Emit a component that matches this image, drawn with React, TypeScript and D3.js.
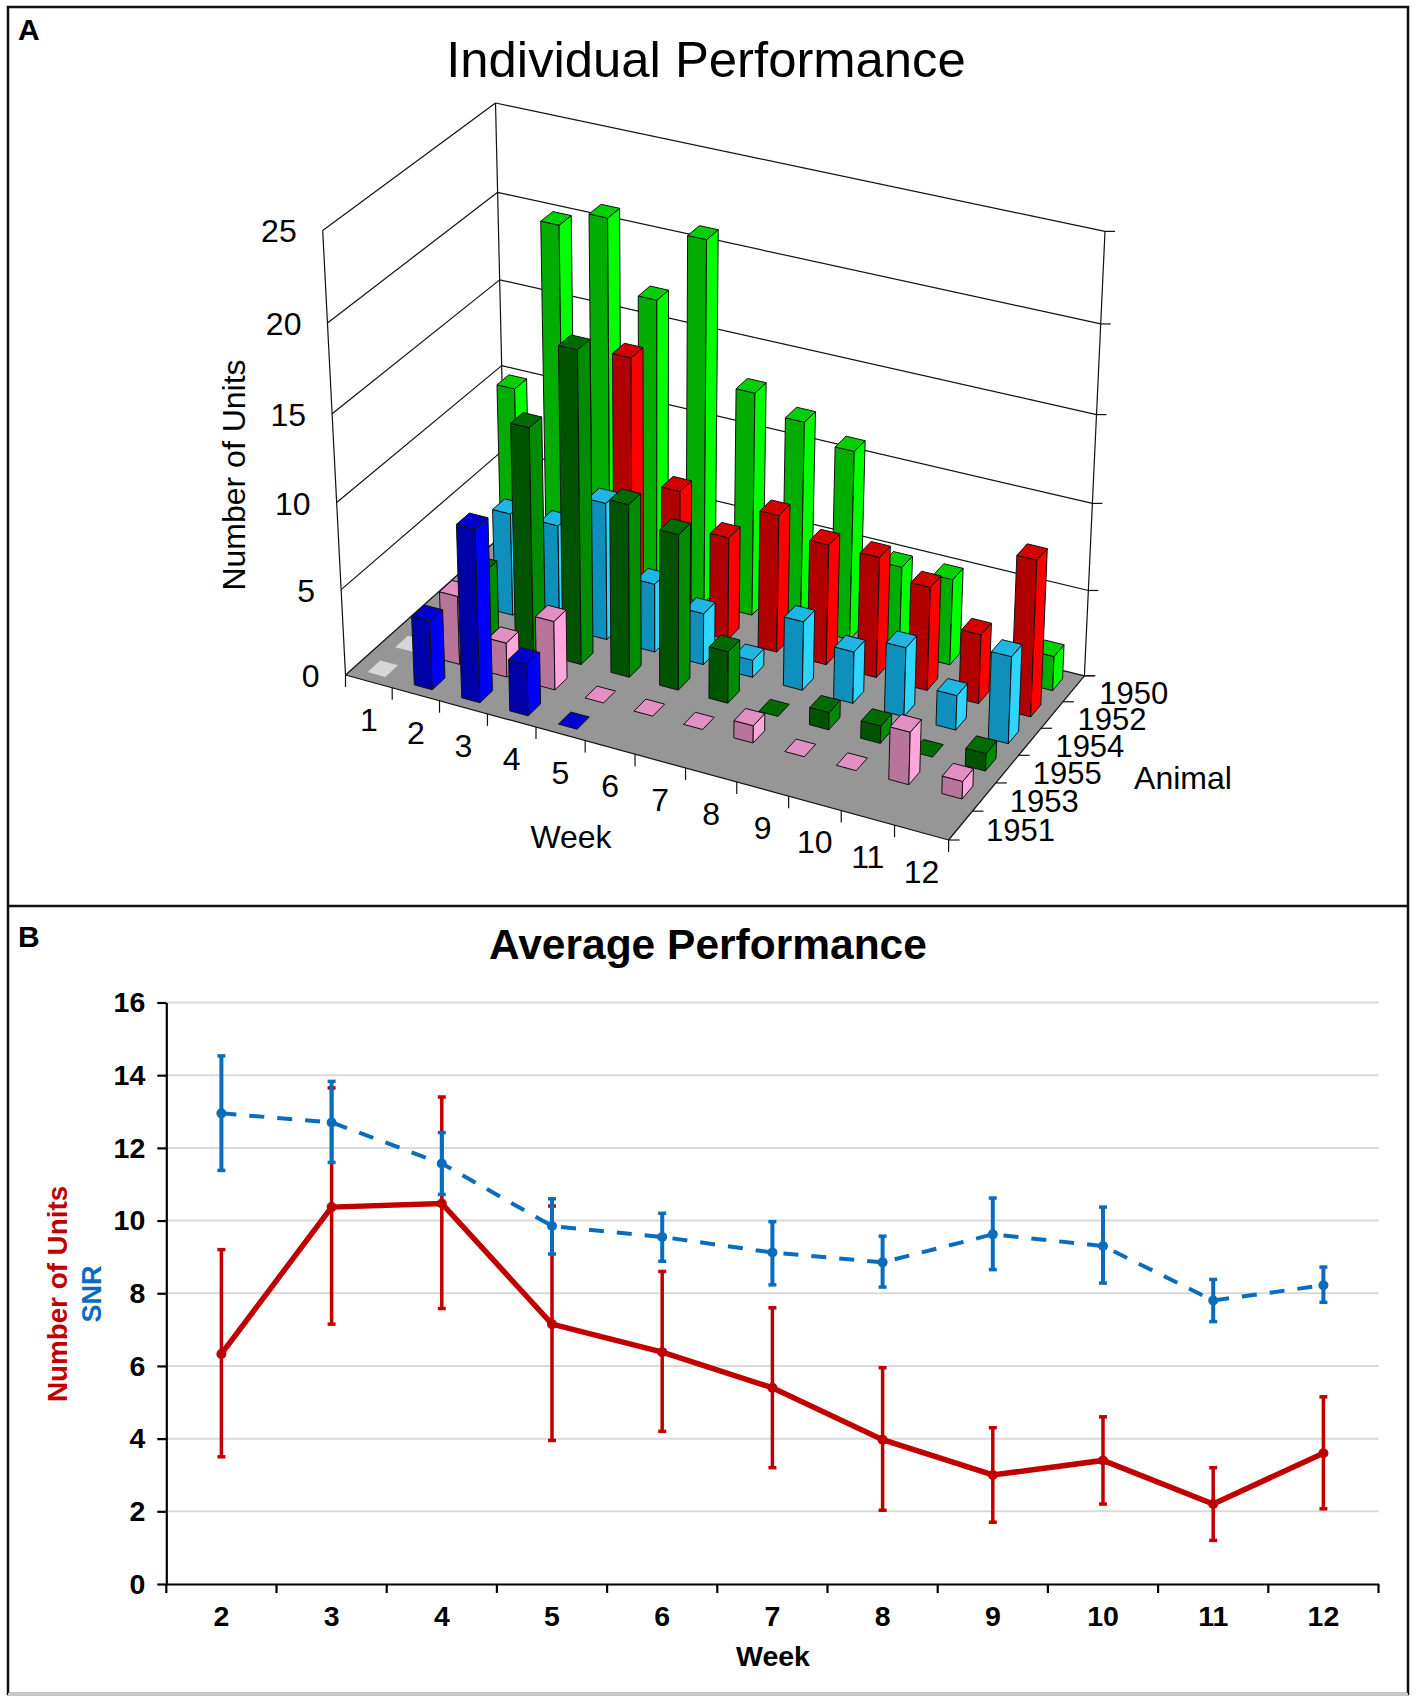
import * as d3 from "d3";
import { useEffect, useRef } from "react";

// panel A data, front row first, null = no bar drawn
const animals = ["1951", "1953", "1955", "1954", "1952", "1950"];
const weeksA = ["1", "2", "3", "4", "5", "6", "7", "8", "9", "10", "11", "12"];
const units1951 = [0, 4, 10, 3, 0, null, null, null, null, null, null, null];
const units1953 = [0, 4, 2, 4, 0, 0, 0, 1, 0, 0, 3, 1];
const units1955 = [null, 4, 13, 18, 10, 9, 3, 0, 1, 1, 0, 1];
const units1954 = [null, 6, 6, 8, 4, 3, 1, 4, 3, 4, 2, 5];
const units1952 = [null, null, null, 15, 8, 6, 8, 7, 7, 6, 4, 9];
const units1950 = [10, 20, 21, 17, 21, 13, 12, 11, 5, 5, null, 2];
const unitsByAnimal = [units1951, units1953, units1955, units1954, units1952, units1950];
const ticksA = [0, 5, 10, 15, 20, 25];
// week 1 zeros of the two front animals are washed out
const faded = ["1951", "1953"];

// front, right, top
const barColors = [
    ["#0000a8", "#0000ff", "#0000d0"],
    ["#b8749a", "#ffa6dc", "#e48fc4"],
    ["#005400", "#008c00", "#006c00"],
    ["#0f8fbb", "#2fd4ff", "#1fb6e4"],
    ["#b00000", "#ff0000", "#d40000"],
    ["#00ad00", "#00ff00", "#00cf00"],
];

// panel B data
const weeksB = ["2", "3", "4", "5", "6", "7", "8", "9", "10", "11", "12"];
const unitsMean = [6.33, 10.37, 10.47, 7.15, 6.38, 5.4, 3.97, 3.0, 3.4, 2.2, 3.6];
const unitsHigh = [9.2, 13.65, 13.4, 10.4, 8.6, 7.6, 5.95, 4.3, 4.6, 3.2, 5.15];
const unitsLow = [3.5, 7.15, 7.58, 3.95, 4.2, 3.2, 2.03, 1.7, 2.2, 1.2, 2.07];
const snrMean = [12.95, 12.7, 11.57, 9.85, 9.55, 9.12, 8.85, 9.62, 9.3, 7.8, 8.22];
const snrHigh = [14.53, 13.83, 12.42, 10.6, 10.2, 9.97, 9.57, 10.62, 10.37, 8.38, 8.72];
const snrLow = [11.38, 11.6, 10.72, 9.08, 8.88, 8.23, 8.17, 8.65, 8.28, 7.22, 7.75];
const ticksB = [0, 2, 4, 6, 8, 10, 12, 14, 16];

const FONT = "'Liberation Sans', Arial, sans-serif";
const RED = "#c00000";
const BLUE = "#0a6cbc";

type Pt = [number, number];

// maps the unit square onto a quad (p0 = 0,0  p1 = 1,0  p2 = 1,1  p3 = 0,1)
const quadMap = (q: Pt[]) => {
    const [[x0, y0], [x1, y1], [x2, y2], [x3, y3]] = q;
    const dx1 = x1 - x2, dx2 = x3 - x2, sx = x0 - x1 + x2 - x3;
    const dy1 = y1 - y2, dy2 = y3 - y2, sy = y0 - y1 + y2 - y3;
    const den = dx1 * dy2 - dx2 * dy1;
    const g = (sx * dy2 - dx2 * sy) / den;
    const h = (dx1 * sy - sx * dy1) / den;
    return (u: number, v: number): Pt => {
        const w = g * u + h * v + 1;
        return [
            ((x1 - x0 + g * x1) * u + (x3 - x0 + h * x3) * v + x0) / w,
            ((y1 - y0 + g * y1) * u + (y3 - y0 + h * y3) * v + y0) / w,
        ];
    };
};

// the 3d box of panel A: floor and ceiling as seen on screen
const floorMap = quadMap([[345.5, 675], [948.6, 840], [1084.4, 675.8], [505.6, 532]]);
const topMap = quadMap([[322.7, 230.4], [962, 375], [1105, 231.4], [495.5, 103]]);
const project = (u: number, v: number, t: number): Pt => {
    const a = floorMap(u, v);
    const b = topMap(u, v);
    const k = t / (1.052 - 0.052 * t);
    return [a[0] + (b[0] - a[0]) * k, a[1] + (b[1] - a[1]) * k];
};

const drawPanelA = (svg: any) => {
    const g = svg.append("g").attr("font-family", FONT);
    const weekScale = d3.scaleBand().domain(weeksA).range([0, 1]);
    const animalScale = d3.scaleBand().domain(animals).range([0, 1]);
    const valueScale = d3.scaleLinear().domain([0, 25]).range([0, 1]);
    const poly = d3.line().curve(d3.curveLinearClosed);

    const segment = (a: Pt, b: Pt, width = 1.2) =>
        g.append("line")
            .attr("x1", a[0]).attr("y1", a[1])
            .attr("x2", b[0]).attr("y2", b[1])
            .attr("stroke", "#111").attr("stroke-width", width);

    // floor
    g.append("path")
        .attr("d", poly([project(0, 0, 0), project(1, 0, 0), project(1, 1, 0), project(0, 1, 0)]))
        .attr("fill", "#969696");

    // walls
    ticksA.forEach((tick) => {
        const t = valueScale(tick);
        segment(project(0, 0, t), project(0, 1, t));
        segment(project(0, 1, t), project(1, 1, t));
        const end = project(1, 1, t);
        segment(end, [end[0] + 10, end[1]]);
        const left = project(0, 0, t);
        g.append("text")
            .attr("x", left[0] - 26)
            .attr("y", left[1] + 12)
            .attr("text-anchor", "end")
            .attr("font-size", 32)
            .text(tick);
    });
    segment(project(0, 0, 0), project(0, 0, 1));
    segment(project(0, 1, 0), project(0, 1, 1));
    segment(project(1, 1, 0), project(1, 1, 1));
    segment(project(0, 0, 0), project(1, 0, 0));
    segment(project(1, 0, 0), project(1, 1, 0));

    // week ticks and labels along the front edge
    weeksA.forEach((week, i) => {
        const u0 = weekScale(week)!;
        const a = project(u0, 0, 0);
        segment(a, [a[0], a[1] + 12]);
        if (i === weeksA.length - 1) {
            const e = project(1, 0, 0);
            segment(e, [e[0], e[1] + 12]);
        }
        const c = project(u0 + weekScale.bandwidth() / 2, 0, 0);
        g.append("text")
            .attr("x", c[0])
            .attr("y", c[1] + 50)
            .attr("text-anchor", "middle")
            .attr("font-size", 32)
            .text(week);
    });

    // animal ticks and labels along the right edge
    animals.forEach((animal, i) => {
        const v0 = animalScale(animal)!;
        const a = project(1, v0, 0);
        segment(a, [a[0] + 11, a[1]]);
        if (i === animals.length - 1) {
            const e = project(1, 1, 0);
            segment(e, [e[0] + 11, e[1]]);
        }
        const c = project(1, v0 + animalScale.bandwidth() / 2, 0);
        g.append("text")
            .attr("x", c[0] + 60)
            .attr("y", c[1] + 15)
            .attr("text-anchor", "middle")
            .attr("font-size", 31)
            .text(animal);
    });

    // bars, back row first
    const du = weekScale.bandwidth() * 0.38;
    const dv = animalScale.bandwidth() * 0.46;
    [...animals].reverse().forEach((animal) => {
        const row = animals.indexOf(animal);
        const [front, right, top] = barColors[row];
        unitsByAnimal[row].forEach((value, i) => {
            if (value === null) return;
            const uc = weekScale(weeksA[i])! + weekScale.bandwidth() / 2;
            const vc = animalScale(animal)! + animalScale.bandwidth() / 2;
            const u0 = uc - du / 2, u1 = uc + du / 2;
            const v0 = vc - dv / 2, v1 = vc + dv / 2;
            const t = valueScale(value);
            const isFaded = i === 0 && faded.includes(animal);
            if (t > 0) {
                g.append("path")
                    .attr("d", poly([project(u0, v0, 0), project(u1, v0, 0), project(u1, v0, t), project(u0, v0, t)]))
                    .attr("fill", front).attr("stroke", "#111").attr("stroke-width", 1);
                g.append("path")
                    .attr("d", poly([project(u1, v0, 0), project(u1, v1, 0), project(u1, v1, t), project(u1, v0, t)]))
                    .attr("fill", right).attr("stroke", "#111").attr("stroke-width", 1);
            }
            g.append("path")
                .attr("d", poly([project(u0, v0, t), project(u1, v0, t), project(u1, v1, t), project(u0, v1, t)]))
                .attr("fill", isFaded ? "#d6d6d6" : top)
                .attr("stroke", isFaded ? "none" : "#111")
                .attr("stroke-width", 1);
        });
    });

    // titles
    g.append("text")
        .attr("x", 706).attr("y", 77)
        .attr("text-anchor", "middle")
        .attr("font-size", 50.8)
        .text("Individual Performance");
    g.append("text")
        .attr("transform", "translate(245,475) rotate(-90)")
        .attr("text-anchor", "middle")
        .attr("font-size", 32)
        .text("Number of Units");
    g.append("text").attr("x", 571).attr("y", 848).attr("text-anchor", "middle").attr("font-size", 32).text("Week");
    g.append("text").attr("x", 1183).attr("y", 789).attr("text-anchor", "middle").attr("font-size", 32).text("Animal");
};

const drawPanelB = (svg: any) => {
    const left = 166.3, right = 1378.5, top = 1002.5, bottom = 1584;
    const g = svg.append("g").attr("font-family", FONT);
    const scaleX = d3.scaleBand().domain(weeksB).range([left, right]);
    const scaleY = d3.scaleLinear().domain([0, 16]).range([bottom, top]);
    const centre = (week: string) => scaleX(week)! + scaleX.bandwidth() / 2;

    // grid
    ticksB.filter((d) => d > 0).forEach((tick) => {
        g.append("line")
            .attr("x1", left).attr("x2", right)
            .attr("y1", scaleY(tick)).attr("y2", scaleY(tick))
            .attr("stroke", "#d9d9d9").attr("stroke-width", 2);
    });

    // y axis
    const yAxis = g.append("g")
        .attr("transform", `translate(${left},0)`)
        .call(d3.axisLeft(scaleY).tickValues(ticksB).tickSize(9).tickPadding(12).tickSizeOuter(0));
    yAxis.selectAll("path,line").attr("stroke", "#000").attr("stroke-width", 2.2);
    yAxis.selectAll("text")
        .attr("font-family", FONT).attr("font-size", 28.5).attr("font-weight", "bold").attr("fill", "#000");

    // x axis: ticks sit between the weeks, labels under the middle
    const xAxis = g.append("g")
        .attr("transform", `translate(0,${bottom})`)
        .call(d3.axisBottom(scaleX).tickSize(0).tickPadding(22));
    xAxis.select("path").attr("stroke", "#000").attr("stroke-width", 2.2);
    xAxis.selectAll("text")
        .attr("font-family", FONT).attr("font-size", 28.5).attr("font-weight", "bold").attr("fill", "#000");
    [...weeksB.map((w) => scaleX(w)!), right].forEach((x) => {
        g.append("line")
            .attr("x1", x).attr("x2", x)
            .attr("y1", bottom).attr("y2", bottom + 9)
            .attr("stroke", "#000").attr("stroke-width", 2.2);
    });

    const drawSeries = (mean: number[], high: number[], low: number[], color: string, lineWidth: number, dash: string | null, barWidth: number, r: number) => {
        weeksB.forEach((week, i) => {
            const x = centre(week);
            g.append("line")
                .attr("x1", x).attr("x2", x)
                .attr("y1", scaleY(high[i])).attr("y2", scaleY(low[i]))
                .attr("stroke", color).attr("stroke-width", barWidth);
            [high[i], low[i]].forEach((v) => {
                g.append("line")
                    .attr("x1", x - 4).attr("x2", x + 4)
                    .attr("y1", scaleY(v)).attr("y2", scaleY(v))
                    .attr("stroke", color).attr("stroke-width", 3.5);
            });
        });
        const line = d3.line<number>()
            .x((_, i) => centre(weeksB[i]))
            .y((d) => scaleY(d));
        g.append("path")
            .attr("d", line(mean))
            .attr("fill", "none")
            .attr("stroke", color)
            .attr("stroke-width", lineWidth)
            .attr("stroke-dasharray", dash);
        weeksB.forEach((week, i) => {
            g.append("circle")
                .attr("cx", centre(week)).attr("cy", scaleY(mean[i]))
                .attr("r", r).attr("fill", color);
        });
    };
    drawSeries(unitsMean, unitsHigh, unitsLow, RED, 5.5, null, 3.5, 5);
    drawSeries(snrMean, snrHigh, snrLow, BLUE, 4, "15 13", 4, 5);

    g.append("text")
        .attr("x", 708).attr("y", 959)
        .attr("text-anchor", "middle")
        .attr("font-size", 42.5).attr("font-weight", "bold")
        .text("Average Performance");
    g.append("text")
        .attr("x", 773).attr("y", 1666)
        .attr("text-anchor", "middle")
        .attr("font-size", 28.5).attr("font-weight", "bold")
        .text("Week");
    g.append("text")
        .attr("transform", "translate(67,1294) rotate(-90)")
        .attr("text-anchor", "middle")
        .attr("font-size", 27.8).attr("font-weight", "bold").attr("fill", RED)
        .text("Number of Units");
    g.append("text")
        .attr("transform", "translate(101,1294) rotate(-90)")
        .attr("text-anchor", "middle")
        .attr("font-size", 27).attr("font-weight", "bold").attr("fill", BLUE)
        .text("SNR");
};

const drawFrame = (svg: any) => {
    const g = svg.append("g");
    g.append("rect")
        .attr("x", 8).attr("y", 7).attr("width", 1400).attr("height", 1687)
        .attr("fill", "none").attr("stroke", "#111").attr("stroke-width", 2.5);
    g.append("line")
        .attr("x1", 8).attr("x2", 1408).attr("y1", 906).attr("y2", 906)
        .attr("stroke", "#111").attr("stroke-width", 2.5);
    g.append("line")
        .attr("x1", 8).attr("x2", 1408).attr("y1", 1694).attr("y2", 1694)
        .attr("stroke", "#c8c8c8").attr("stroke-width", 2.5);
    const labels = g.append("g")
        .attr("font-family", FONT).attr("font-size", 30).attr("font-weight", "bold");
    labels.append("text").attr("x", 18).attr("y", 40).text("A");
    labels.append("text").attr("x", 18).attr("y", 947).text("B");
};

export default function App() {
    const svgRef = useRef<SVGSVGElement>(null);

    useEffect(() => {
        if (svgRef.current) {
            const svg = d3.select(svgRef.current);
            svg.selectAll("*").remove();
            drawPanelA(svg);
            drawPanelB(svg);
            drawFrame(svg);
        }
    }, []);

    return (
        <svg
            ref={svgRef}
            width={1417}
            height={1702}
            style={{ position: "absolute", left: 0, top: 0, background: "#fff" }}
        />
    );
}
